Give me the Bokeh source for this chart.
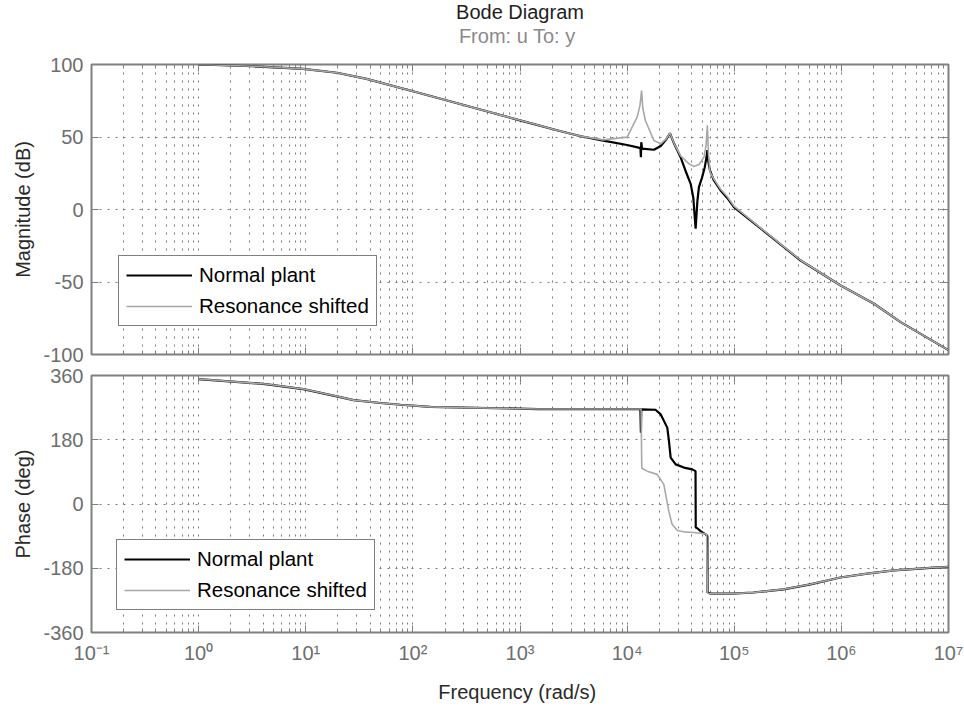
from bokeh.plotting import figure
from bokeh.models import FixedTicker, LogAxis, LinearAxis, Legend, LegendItem, Title
from bokeh.layouts import column
from bokeh.embed import file_html
from bokeh.resources import INLINE

# ---------------- data ----------------
# Magnitude, "Normal plant"
freq_mag_normal = [1, 3.2, 9.5, 19.5, 37, 102, 209, 1000, 2400, 3700,
                   6000, 10000, 12500, 13300, 13450, 13550, 13800, 17800, 20600, 23000,
                   25100, 27500, 31600, 35000, 39200, 41500, 43600, 45300, 46800, 50000,
                   53000, 55100, 56100, 57300, 59300, 64600, 74600, 86000, 99300, 204000,
                   417000, 986000, 2020000, 3570000, 10000000]
mag_normal = [100.0, 98.8, 97.0, 94.3, 90.1, 81.4, 75.2, 61.5, 54.0, 50.5,
              47.5, 44.5, 42.8, 42.3, 36.0, 46.4, 42.0, 41.2, 43.8, 48.0,
              52.6, 45.3, 36.0, 26.9, 17.7, 8.0, -13.3, 6.0, 15.4, 22.0,
              29.0, 36.0, 41.0, 33.0, 27.0, 20.0, 13.1, 8.0, 1.6, -16.8,
              -35.2, -52.4, -65.0, -77.7, -97.0]

# Magnitude, "Resonance shifted"
freq_mag_shifted = [1, 3.2, 9.5, 19.5, 37, 102, 209, 1000, 2400, 3700,
                    6000, 10000, 12400, 13200, 13650, 14000, 14800, 17800, 20600, 23000,
                    25100, 27500, 31600, 37800, 42000, 47000, 52100, 54500, 56100, 57300,
                    59300, 64600, 74600, 86000, 99300, 204000, 417000, 986000, 2020000, 3570000,
                    10000000]
mag_shifted = [100.0, 98.8, 97.0, 94.3, 90.1, 81.4, 75.2, 61.5, 54.0, 50.5,
               48.0, 49.9, 63.7, 72.0, 82.0, 70.0, 61.4, 47.6, 45.3, 48.5,
               52.6, 45.5, 37.0, 31.5, 29.7, 31.0, 36.0, 44.0, 58.0, 40.0,
               26.0, 21.0, 14.0, 9.0, 2.3, -16.5, -35.0, -52.4, -65.0, -77.7,
               -97.0]

# Phase, "Normal plant"
freq_ph_normal = [1, 4.2, 9.5, 20, 28, 50, 77, 146, 1480, 12600,
                  13300, 13450, 13550, 18400, 20600, 23700, 24500, 25500, 28400, 33900,
                  40600, 43500, 43700, 45200, 48500, 54100, 56100, 56300, 60200, 95500,
                  151000, 288000, 513000, 977000, 1740000, 3090000, 7350000, 10000000]
ph_normal = [350, 336, 322, 301, 291, 283, 278, 272, 266, 266,
             266, 200, 265, 264, 251, 214, 180, 130, 111, 102,
             97, 92, -66, -68, -76, -85, -90, -248, -251, -251,
             -248, -239, -225, -206, -195, -186, -178, -176]

# Phase, "Resonance shifted"
freq_ph_shifted = [1, 4.2, 9.5, 20, 28, 50, 77, 146, 1480, 12600,
                   13500, 13700, 15400, 19100, 22000, 24500, 26300, 29400, 33900, 42000,
                   52100, 55200, 56100, 56500, 60200, 95500, 151000, 288000, 513000, 977000,
                   1740000, 3090000, 7350000, 10000000]
ph_shifted = [350, 336, 322, 301, 291, 283, 278, 272, 266, 266,
              266, 100, 92, 83, 55, -20, -57, -74, -78, -80,
              -83, -85, -248, -250, -251, -251, -248, -239, -225, -206,
              -195, -186, -178, -176]

decade_ticks = [0.1, 1, 10, 100, 1e3, 1e4, 1e5, 1e6, 1e7]
decade_labels = ["10⁻¹", "10⁰", "10¹", "10²", "10³", "10⁴", "10⁵", "10⁶", "10⁷"]
mag_ticks = [-100, -50, 0, 50, 100]
mag_labels = ["-100", "-50", "0", "50", "100"]
phase_ticks = [-360, -180, 0, 180, 360]
phase_labels = ["-360", "-180", "0", "180", "360"]
series_names = ["Normal plant", "Resonance shifted"]
title_text = "Bode Diagram"
subtitle_text = "From: u  To: y"

# ---------------- styling ----------------
FONT = "Liberation Sans"
FRAME = "#808080"
GRID = "#7a7a7a"
TICKC = "#6e6e6e"
BLACK = "#000000"
GRAY = "#a8a8a8"

minor_ticks = [m * d for d in decade_ticks[:-1] for m in range(2, 10)]


def style_axis(ax, labels=True, minor=True):
    ax.axis_line_color = None
    ax.major_tick_in = 7
    ax.major_tick_out = 0
    ax.minor_tick_in = 4
    ax.minor_tick_out = 0
    ax.major_tick_line_color = FRAME
    ax.major_tick_line_width = 1
    ax.minor_tick_line_color = FRAME if minor else None
    ax.major_label_text_font = FONT
    ax.major_label_text_color = TICKC
    if labels:
        ax.major_label_text_font_size = "20px"
        ax.major_label_standoff = 8
    else:
        ax.major_label_text_font_size = "1px"
        ax.major_label_text_alpha = 0.0
        ax.major_label_standoff = 0
    ax.axis_label_text_font = FONT
    ax.axis_label_text_font_size = "20px"
    ax.axis_label_text_font_style = "normal"
    ax.axis_label_text_color = "#2a2a2a"


def make_fig(height, yr, yticks, ylabels, btop, bbottom):
    p = figure(width=964, height=height, x_axis_type="log",
               x_range=(0.1, 1e7), y_range=yr,
               output_backend="svg", toolbar_location=None,
               min_border_left=91, min_border_right=16,
               min_border_top=btop, min_border_bottom=bbottom)
    p.background_fill_color = "white"
    p.border_fill_color = "white"
    p.outline_line_color = FRAME
    p.outline_line_width = 2
    above = LogAxis()
    right = LinearAxis()
    p.add_layout(above, "above")
    p.add_layout(right, "right")
    below = p.below[0]
    left = p.left[0]
    for ax in (below, above):
        ax.ticker = FixedTicker(ticks=decade_ticks, minor_ticks=minor_ticks)
        style_axis(ax, labels=False)
    for ax in (left, right):
        ax.ticker = FixedTicker(ticks=yticks)
    style_axis(left, labels=True, minor=False)
    style_axis(right, labels=False, minor=False)
    left.major_label_overrides = {t: l for t, l in zip(yticks, ylabels)}
    left.axis_label_standoff = 6
    p.xgrid.grid_line_color = GRID
    p.xgrid.grid_line_dash = "2 6"
    p.xgrid.grid_line_width = 1
    p.xgrid.minor_grid_line_color = GRID
    p.xgrid.minor_grid_line_dash = "2 6"
    p.xgrid.minor_grid_line_width = 1
    p.ygrid.grid_line_color = GRID
    p.ygrid.grid_line_dash = "2 6"
    p.ygrid.grid_line_width = 1
    return p, below, left, above


def add_legend(p, r1, r2, loc):
    leg = Legend(items=[LegendItem(label=series_names[0], renderers=[r1]),
                        LegendItem(label=series_names[1], renderers=[r2])],
                 location=loc)
    leg.border_line_color = "black"
    leg.border_line_width = 1.5
    leg.background_fill_color = "white"
    leg.background_fill_alpha = 1.0
    leg.label_text_font = FONT
    leg.label_text_font_size = "20.5px"
    leg.label_text_color = "black"
    leg.glyph_width = 66
    leg.glyph_height = 20
    leg.label_standoff = 7
    leg.padding = 7
    leg.spacing = 7
    leg.margin = 0
    p.add_layout(leg)


# ---------------- magnitude panel ----------------
top, top_below, top_left, top_above = make_fig(364, (-100, 100), mag_ticks, mag_labels, 64, 10)
top_left.axis_label = "Magnitude (dB)"

# invisible spacer axis: only reserves room between frame and the titles
spacer = LogAxis(ticker=FixedTicker(ticks=decade_ticks, minor_ticks=[]))
spacer.axis_line_color = None
spacer.major_tick_line_color = None
spacer.minor_tick_line_color = None
spacer.major_tick_in = 0
spacer.major_tick_out = 16
spacer.minor_tick_out = 0
spacer.major_label_text_font_size = "1px"
spacer.major_label_text_alpha = 0.0
spacer.major_label_standoff = 0
top.add_layout(spacer, "above")

top.add_layout(Title(text=subtitle_text, align="center", vertical_align="top",
                     standoff=0, text_font=FONT, text_font_size="20px",
                     text_font_style="normal", text_color="#8a8a8a"), "above")
top.add_layout(Title(text=title_text, align="center", vertical_align="top",
                     standoff=0, text_font=FONT, text_font_size="20px",
                     text_font_style="normal", text_color="#1e1e1e"), "above")

rb = top.line(freq_mag_normal, mag_normal, line_color=BLACK, line_width=2.2)
rg = top.line(freq_mag_shifted, mag_shifted, line_color=GRAY, line_width=1.6)
add_legend(top, rb, rg, (27, 28))

# ---------------- phase panel ----------------
bot, bot_below, bot_left, bot_above = make_fig(347, (-360, 360), phase_ticks, phase_labels, 11, 79)
bot_left.axis_label = "Phase (deg)"
bot_below.major_label_text_font_size = "20px"
bot_below.major_label_text_alpha = 1.0
bot_below.major_label_standoff = 9
bot_below.major_label_overrides = {t: l for t, l in zip(decade_ticks, decade_labels)}
bot_below.axis_label = "Frequency  (rad/s)"
bot_below.axis_label_standoff = 14

rb2 = bot.line(freq_ph_normal, ph_normal, line_color=BLACK, line_width=2.2)
rg2 = bot.line(freq_ph_shifted, ph_shifted, line_color=GRAY, line_width=1.6)
add_legend(bot, rb2, rg2, (25, 22))

layout = column(top, bot, spacing=0)
open("out.html", "w").write(file_html(layout, INLINE))
